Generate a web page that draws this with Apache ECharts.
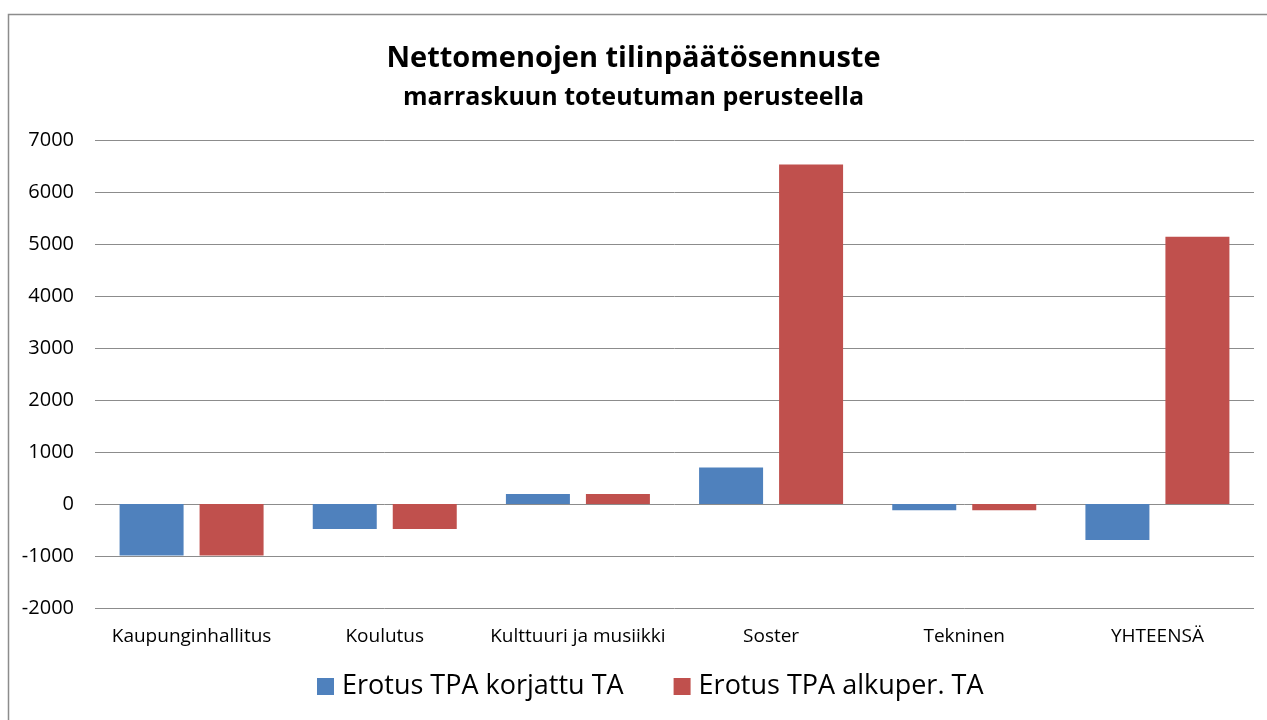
<!DOCTYPE html>
<html>
<head>
<meta charset="utf-8">
<title>Nettomenojen tilinpäätösennuste</title>
<script src="https://cdn.jsdelivr.net/npm/echarts@6/dist/echarts.min.js"></script>
<style>
  html, body { margin: 0; padding: 0; background: #fff; }
  #chart { width: 1267px; height: 720px; }
</style>
</head>
<body>
<div id="chart"></div>
<script>
// kategoriat
var categories = ['Kaupunginhallitus', 'Koulutus', 'Kulttuuri ja musiikki', 'Soster', 'Tekninen', 'YHTEENSÄ'];
// sarjat
var seriesNames = ['Erotus TPA korjattu TA', 'Erotus TPA alkuper. TA'];
var korjattu = [-990, -480, 190, 700, -120, -690];
var alkuper = [-990, -480, 190, 6530, -120, 5140];
// y-akselin asteikko
var yMin = -2000, yMax = 7000, yStep = 1000;

var font = '"Open Sans", sans-serif';
var chart = echarts.init(document.getElementById('chart'));

var option = {
    animation: false,
    textStyle: { fontFamily: font },
    title: {
        text: 'Nettomenojen tilinpäätösennuste',
        subtext: 'marraskuun toteutuman perusteella',
        left: 'center',
        top: 39,
        itemGap: 12,
        textStyle: { fontFamily: font, fontSize: 29, fontWeight: 'bold', color: '#000' },
        subtextStyle: { fontFamily: font, fontSize: 25, fontWeight: 'bold', color: '#000' }
    },
    legend: {
        bottom: 15,
        left: 312,
        itemWidth: 17,
        itemHeight: 17,
        itemGap: 50,
        icon: 'rect',
        textStyle: { fontFamily: font, fontSize: 27, color: '#000', padding: [0, 0, 0, 3] },
        data: seriesNames
    },
    grid: { left: 95, right: 13, top: 140, bottom: 112 },
    xAxis: {
        type: 'category',
        data: categories,
        axisLine: { show: false },
        axisTick: { show: false },
        axisLabel: { fontFamily: font, fontSize: 19, color: '#000', margin: 19, interval: 0 }
    },
    yAxis: {
        type: 'value',
        min: yMin,
        max: yMax,
        interval: yStep,
        axisLine: { show: false },
        axisTick: { show: false },
        axisLabel: {
            fontFamily: font, fontSize: 20, color: '#000', margin: 21,
            formatter: function (v) { return String(v); }
        },
        splitLine: { lineStyle: { color: '#8c8c8c', width: 1 } }
    },
    graphic: [{
        type: 'rect',
        shape: { x: 8.5, y: 14.5, width: 1400, height: 900 },
        style: { fill: 'none', stroke: '#8c8c8c', lineWidth: 1.5 },
        silent: true
    }],
    series: [{
        name: seriesNames[0],
        type: 'bar',
        data: korjattu,
        barWidth: 64,
        barGap: '25%',
        itemStyle: { color: '#4f81bd' }
    }, {
        name: seriesNames[1],
        type: 'bar',
        data: alkuper,
        barWidth: 64,
        itemStyle: { color: '#c0504d' }
    }]
};

chart.setOption(option);
</script>
</body>
</html>
